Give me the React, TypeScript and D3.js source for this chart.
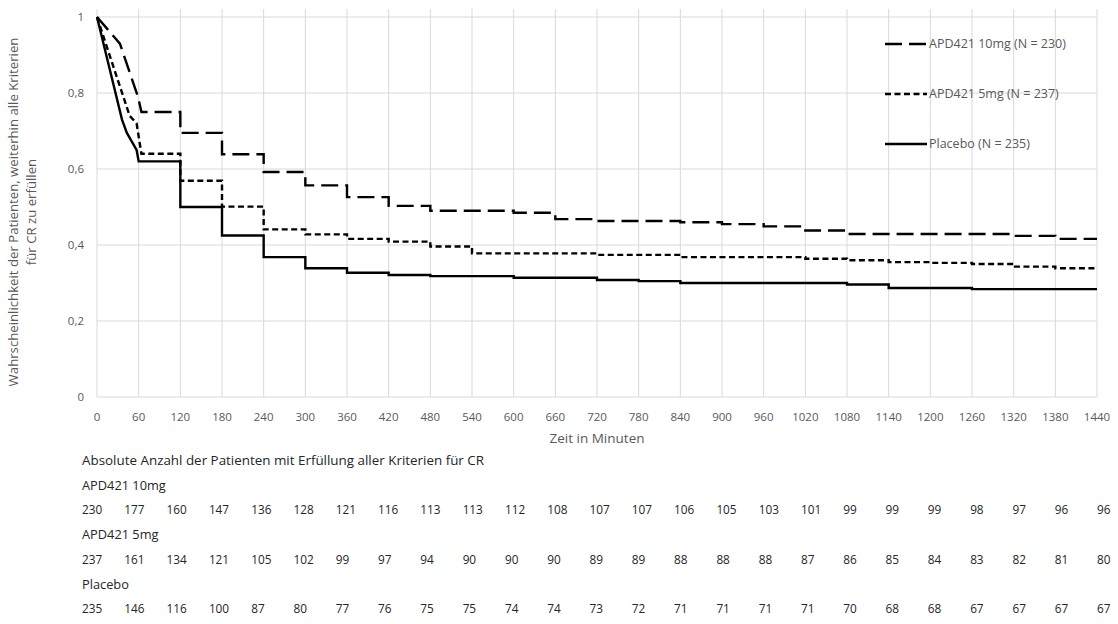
import React from "react";
import * as d3 from "d3";

const xTickLabels = [0, 60, 120, 180, 240, 300, 360, 420, 480, 540, 600, 660, 720, 780, 840, 900, 960, 1020, 1080, 1140, 1200, 1260, 1320, 1380, 1440];
const yTickValues = [0, 0.2, 0.4, 0.6, 0.8, 1];
const yTickLabels = ["0", "0,2", "0,4", "0,6", "0,8", "1"];

// Early (linear) part, then step changes
const tenMgEarlyT = [0, 33, 59, 64];
const tenMgEarlyV = [1, 0.93, 0.79, 0.75];
const tenMgStepT = [120, 180, 240, 300, 360, 420, 480, 600, 660, 720, 840, 900, 960, 1020, 1080, 1320, 1380];
const tenMgStepV = [0.695, 0.639, 0.592, 0.557, 0.526, 0.503, 0.49, 0.485, 0.468, 0.463, 0.46, 0.455, 0.449, 0.438, 0.429, 0.424, 0.416];

const fiveMgEarlyT = [0, 47, 57, 64];
const fiveMgEarlyV = [1, 0.74, 0.72, 0.64];
const fiveMgStepT = [120, 180, 240, 300, 360, 420, 480, 540, 720, 840, 1020, 1080, 1140, 1200, 1260, 1320, 1380];
const fiveMgStepV = [0.569, 0.501, 0.441, 0.428, 0.416, 0.409, 0.396, 0.378, 0.374, 0.368, 0.364, 0.36, 0.355, 0.353, 0.35, 0.343, 0.339];

const placeboEarlyT = [0, 36, 43, 57, 60];
const placeboEarlyV = [1, 0.73, 0.695, 0.65, 0.62];
const placeboStepT = [120, 180, 240, 300, 360, 420, 480, 600, 720, 780, 840, 1080, 1140, 1260];
const placeboStepV = [0.5, 0.425, 0.368, 0.339, 0.327, 0.321, 0.318, 0.314, 0.308, 0.305, 0.3, 0.296, 0.287, 0.284];

const endTime = 1440;

const seriesNames = ["APD421 10mg (N = 230)", "APD421 5mg (N = 237)", "Placebo (N = 235)"];
const tableTitle = "Absolute Anzahl der Patienten mit Erfüllung aller Kriterien für CR";
const tableGroups = ["APD421 10mg", "APD421 5mg", "Placebo"];
const tenMgAtRisk = [230, 177, 160, 147, 136, 128, 121, 116, 113, 113, 112, 108, 107, 107, 106, 105, 103, 101, 99, 99, 99, 98, 97, 96, 96];
const fiveMgAtRisk = [237, 161, 134, 121, 105, 102, 99, 97, 94, 90, 90, 90, 89, 89, 88, 88, 88, 87, 86, 85, 84, 83, 82, 81, 80];
const placeboAtRisk = [235, 146, 116, 100, 87, 80, 77, 76, 75, 75, 74, 74, 73, 72, 71, 71, 71, 71, 70, 68, 68, 67, 67, 67, 67];

const yLabel1 = "Wahrscheinlichkeit der Patienten, weiterhin alle Kriterien";
const yLabel2 = "für CR zu erfüllen";
const xLabel = "Zeit in Minuten";

function buildPoints(et: number[], ev: number[], st: number[], sv: number[]): [number, number][] {
  const pts: [number, number][] = et.map((t, i) => [t, ev[i]]);
  let prev = ev[ev.length - 1];
  st.forEach((t, i) => {
    pts.push([t, prev]);
    pts.push([t, sv[i]]);
    prev = sv[i];
  });
  pts.push([endTime, prev]);
  return pts;
}

export default function App() {
  const W = 1118, H = 624;
  const x = d3.scaleLinear().domain([0, 1440]).range([97, 1097]);
  const y = d3.scaleLinear().domain([0, 1]).range([397, 17]);
  const line = d3.line<[number, number]>().x(d => x(d[0])).y(d => y(d[1]));

  const series = [
    { pts: buildPoints(tenMgEarlyT, tenMgEarlyV, tenMgStepT, tenMgStepV), dash: "17 7" },
    { pts: buildPoints(fiveMgEarlyT, fiveMgEarlyV, fiveMgStepT, fiveMgStepV), dash: "6 3.5" },
    { pts: buildPoints(placeboEarlyT, placeboEarlyV, placeboStepT, placeboStepV), dash: "" },
  ];

  const col = d3.scalePoint<number>().domain(d3.range(25)).range([82, 1097]);
  const rows = [tenMgAtRisk, fiveMgAtRisk, placeboAtRisk];
  const font = "'Open Sans', sans-serif";
  const grid = "#d9d9d9";
  const gray = "#595959";
  const ink = "#262626";
  const legendY = [44, 94, 144];

  return (
    <svg width={W} height={H} style={{ position: "absolute", left: 0, top: 0, background: "#fff" }} fontFamily={font}>
      <rect width={W} height={H} fill="#fff" />
      {/* grid */}
      {xTickLabels.map(t => (
        <line key={"gx" + t} x1={x(t)} x2={x(t)} y1={9} y2={397} stroke={grid} strokeWidth={1} />
      ))}
      {yTickValues.map(v => (
        <line key={"gy" + v} x1={97} x2={1097} y1={y(v)} y2={y(v)} stroke={grid} strokeWidth={1} />
      ))}
      {/* tick labels */}
      {yTickValues.map((v, i) => (
        <text key={"ty" + v} x={84} y={y(v)} dy="0.35em" textAnchor="end" fontSize={11.5} fill={gray}>{yTickLabels[i]}</text>
      ))}
      {xTickLabels.map(t => (
        <text key={"tx" + t} x={x(t)} y={421} textAnchor="middle" fontSize={11.5} fill={gray}>{t}</text>
      ))}
      <text x={(x(0) + x(1440)) / 2} y={443} textAnchor="middle" fontSize={13.5} fill={gray}>{xLabel}</text>
      <g transform={`translate(13,212) rotate(-90)`}>
        <text textAnchor="middle" dy="0.35em" fontSize={13.2} fill={gray}>{yLabel1}</text>
      </g>
      <g transform={`translate(31,212) rotate(-90)`}>
        <text textAnchor="middle" dy="0.35em" fontSize={13.2} fill={gray}>{yLabel2}</text>
      </g>
      {/* curves */}
      {series.map((s, i) => (
        <path key={"s" + i} d={line(s.pts) || ""} fill="none" stroke="#000" strokeWidth={2.4}
          strokeDasharray={s.dash || undefined} strokeLinejoin="miter" />
      ))}
      {/* legend */}
      {series.map((s, i) => (
        <g key={"lg" + i}>
          <line x1={885} x2={927} y1={legendY[i]} y2={legendY[i]} stroke="#000" strokeWidth={2.4} strokeDasharray={s.dash || undefined} />
          <text x={929} y={legendY[i]} dy="0.35em" fontSize={12.5} fill={gray}>{seriesNames[i]}</text>
        </g>
      ))}
      {/* table */}
      <text x={82} y={465} fontSize={13.4} fill={ink}>{tableTitle}</text>
      {tableGroups.map((g, gi) => (
        <g key={"tg" + gi}>
          <text x={82} y={489.5 + gi * 49.5} fontSize={12.8} fill={ink}>{g}</text>
          {rows[gi].map((n, ci) => (
            <text key={ci} x={col(ci)} y={514 + gi * 49.5} fontSize={11.8} fill={ink}>{n}</text>
          ))}
        </g>
      ))}
    </svg>
  );
}
